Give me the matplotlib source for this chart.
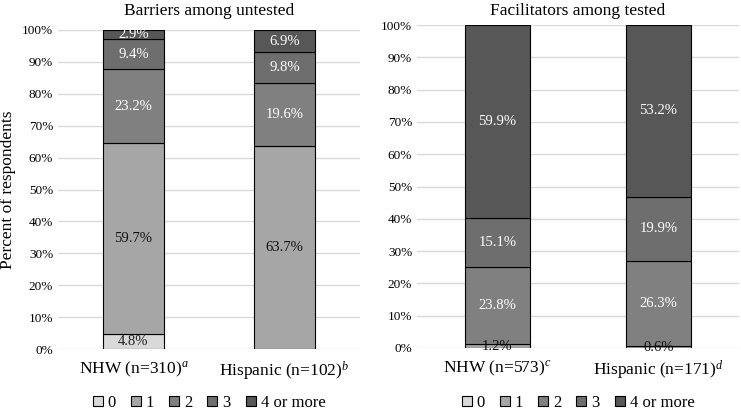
import matplotlib.pyplot as plt
import numpy as np

plt.rcParams['font.family'] = ['Liberation Serif', 'DejaVu Serif']
plt.rcParams['mathtext.fontset'] = 'custom'
plt.rcParams['mathtext.rm'] = 'Liberation Serif'
plt.rcParams['mathtext.it'] = 'Liberation Serif:italic'

# datos de las dos graficas
categorias = ['0', '1', '2', '3', '4 or more']
colores = ['#d9d9d9', '#a6a6a6', '#808080', '#6e6e6e', '#575757']
color_texto = ['#222222', '#111111', 'white', 'white', 'white']

grupos_bar = ['NHW (n=310)', 'Hispanic (n=102)']
sup_bar = ['a', 'b']
barreras = np.array([
    [4.8, 0.0],     # 0
    [59.7, 63.7],   # 1
    [23.2, 19.6],   # 2
    [9.4, 9.8],     # 3
    [2.9, 6.9],     # 4 or more
])

grupos_fac = ['NHW (n=573)', 'Hispanic (n=171)']
sup_fac = ['c', 'd']
facilitadores = np.array([
    [0.0, 0.0],
    [1.2, 0.6],
    [23.8, 26.3],
    [15.1, 19.9],
    [59.9, 53.2],
])

fig = plt.figure(figsize=(7.41, 4.12), dpi=100)
ax1 = fig.add_axes([58/741, 1-349/412, 302/741, 319/412])
ax2 = fig.add_axes([417/741, 1-348/412, 322/741, 323/412])


def dibujar(ax, datos, grupos, sup, titulo, pad_titulo):
    x = np.arange(len(grupos))
    abajo = np.zeros(len(grupos))
    for i, cat in enumerate(categorias):
        vals = datos[i]
        ax.bar(x, vals, 0.4, bottom=abajo, color=colores[i], edgecolor='black',
               linewidth=0.8, label=cat, zorder=3)
        for j, v in enumerate(vals):
            if v > 0:
                ax.text(x[j], abajo[j] + v/2, f'{v:.1f}%', ha='center', va='center',
                        fontsize=10.5, color=color_texto[i], zorder=4)
        abajo += vals
    ax.set_xlim(-0.5, 1.5)
    ax.set_ylim(0, 100)
    ax.set_yticks(np.arange(0, 101, 10))
    ax.set_yticklabels([f'{t}%' for t in range(0, 101, 10)], fontsize=9.5)
    ax.grid(axis='y', color='#d9d9d9', linewidth=1, zorder=0)
    for s in ax.spines.values():
        s.set_visible(False)
    ax.tick_params(length=0)
    ax.set_xticks(x)
    ax.set_xticklabels([f'{g}$^{{\\it {s}}}$' for g, s in zip(grupos, sup)], fontsize=12.5)
    ax.tick_params(axis='x', pad=8)
    ax.set_title(titulo, fontsize=12.5, pad=pad_titulo)
    cx = (ax.get_position().x0 + ax.get_position().x1) / 2
    fig.legend(*ax.get_legend_handles_labels(), loc='center', bbox_to_anchor=(cx, 1-403/412),
               ncol=5, frameon=False, fontsize=12, handlelength=0.6, handleheight=0.6,
               handletextpad=0.3, columnspacing=0.9, borderpad=0)


dibujar(ax1, barreras, grupos_bar, sup_bar, 'Barriers among untested', 11)
dibujar(ax2, facilitadores, grupos_fac, sup_fac, 'Facilitators among tested', 7)
ax1.set_ylabel('Percent of respondents', fontsize=12.5, labelpad=4)

plt.savefig('out.png', dpi=100)
